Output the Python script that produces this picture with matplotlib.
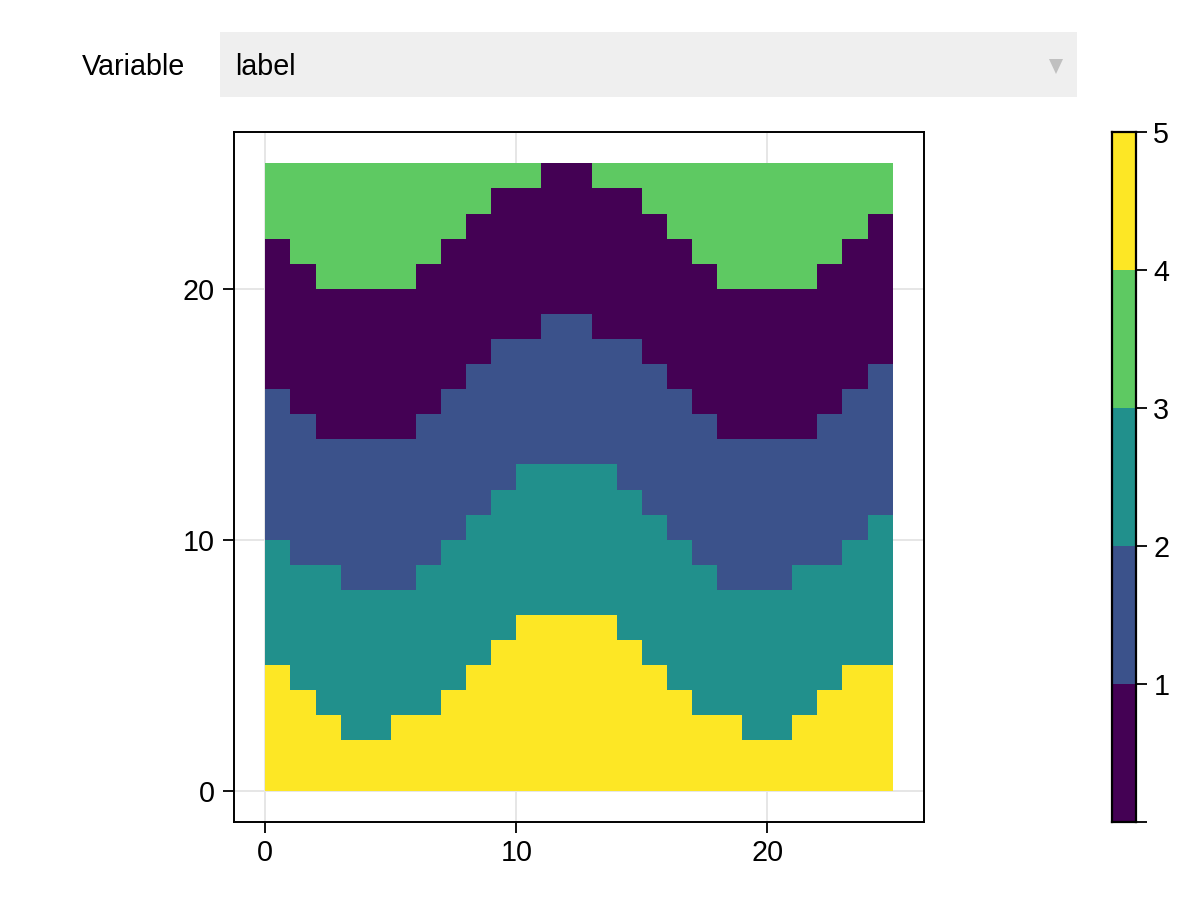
import numpy as np
import matplotlib
matplotlib.use("Agg")
import matplotlib.pyplot as plt
from matplotlib.colors import ListedColormap, BoundaryNorm
from matplotlib.patches import Rectangle, Polygon

# top edge of each band, one value per column
yellow_top = [5, 4, 3, 2, 2, 3, 3, 4, 5, 6, 7, 7, 7, 7, 6, 5, 4, 3, 3, 2, 2, 3, 4, 5, 5]
teal_top = [10, 9, 9, 8, 8, 8, 9, 10, 11, 12, 13, 13, 13, 13, 12, 11, 10, 9, 8, 8, 8, 9, 9, 10, 11]
blue_top = [16, 15, 14, 14, 14, 14, 15, 16, 17, 18, 18, 19, 19, 18, 18, 17, 16, 15, 14, 14, 14, 14, 15, 16, 17]
purple_top = [22, 21, 20, 20, 20, 20, 21, 22, 23, 24, 24, 25, 25, 24, 24, 23, 22, 21, 20, 20, 20, 20, 21, 22, 23]

colors = ["#440154", "#3b528b", "#21908c", "#5ec962", "#fde725"]
ticks = [0, 10, 20]
cbar_edges = [0, 1, 2, 3, 4, 5]
cbar_labels = ["", "1", "2", "3", "4", "5"]

plt.rcParams['font.family'] = ['Liberation Sans', 'DejaVu Sans']
plt.rcParams['font.size'] = 20.7

W, H = 1200, 900
# band numbers: 0 purple, 1 blue, 2 teal, 3 green, 4 yellow
labels = np.full((25, 25), 3)
for col in range(25):
    labels[:purple_top[col], col] = 0
    labels[:blue_top[col], col] = 1
    labels[:teal_top[col], col] = 2
    labels[:yellow_top[col], col] = 4


def px_axes(fig, left, top, right, bottom):
    return fig.add_axes([left / W, 1 - bottom / H, (right - left) / W, (bottom - top) / H])


fig = plt.figure(figsize=(12, 9), dpi=100)
cmap = ListedColormap(colors)
norm = BoundaryNorm(cbar_edges, cmap.N)

# heatmap
ax = px_axes(fig, 234, 132, 924, 822)
ax.pcolormesh(np.arange(26), np.arange(26), labels + 0.5, cmap=cmap, norm=norm, zorder=3)
ax.set_xlim(-1.25, 26.25)
ax.set_ylim(-1.25, 26.25)
ax.set_xticks(ticks)
ax.set_yticks(ticks)
ax.grid(True, color="#e6e6e6", linewidth=1.4)
ax.set_axisbelow(True)
ax.tick_params(length=8, width=1.3)
ax.tick_params(axis="x", pad=4.5)
ax.tick_params(axis="y", pad=6)
for spine in ax.spines.values():
    spine.set_linewidth(1.4)

# colorbar, one cell per band
cax = px_axes(fig, 1112, 132, 1136, 822)
cax.pcolormesh([0, 1], cbar_edges, np.array(cbar_edges[:-1]).reshape(-1, 1) + 0.5, cmap=cmap, norm=norm)
cax.set_xticks([])
cax.yaxis.tick_right()
cax.set_yticks(cbar_edges)
cax.set_yticklabels(cbar_labels)
cax.tick_params(length=8, width=1.3, pad=4.5)
for spine in cax.spines.values():
    spine.set_linewidth(1.6)

# menu above the plot, in pixel coordinates
ui = fig.add_axes([0, 0, 1, 1], zorder=5)
ui.set_xlim(0, W)
ui.set_ylim(H, 0)
ui.axis("off")
ui.add_patch(Rectangle((220, 32), 857, 65, facecolor="#efefef", edgecolor="none"))
ui.add_patch(Polygon([[1049, 59], [1063, 59], [1056, 74]], facecolor="#c0c0c0", edgecolor="none"))
ui.text(82, 64, "Variable", va="center_baseline", ha="left")
ui.text(235, 64, "label", va="center_baseline", ha="left")

fig.savefig("out.png", dpi=100)
